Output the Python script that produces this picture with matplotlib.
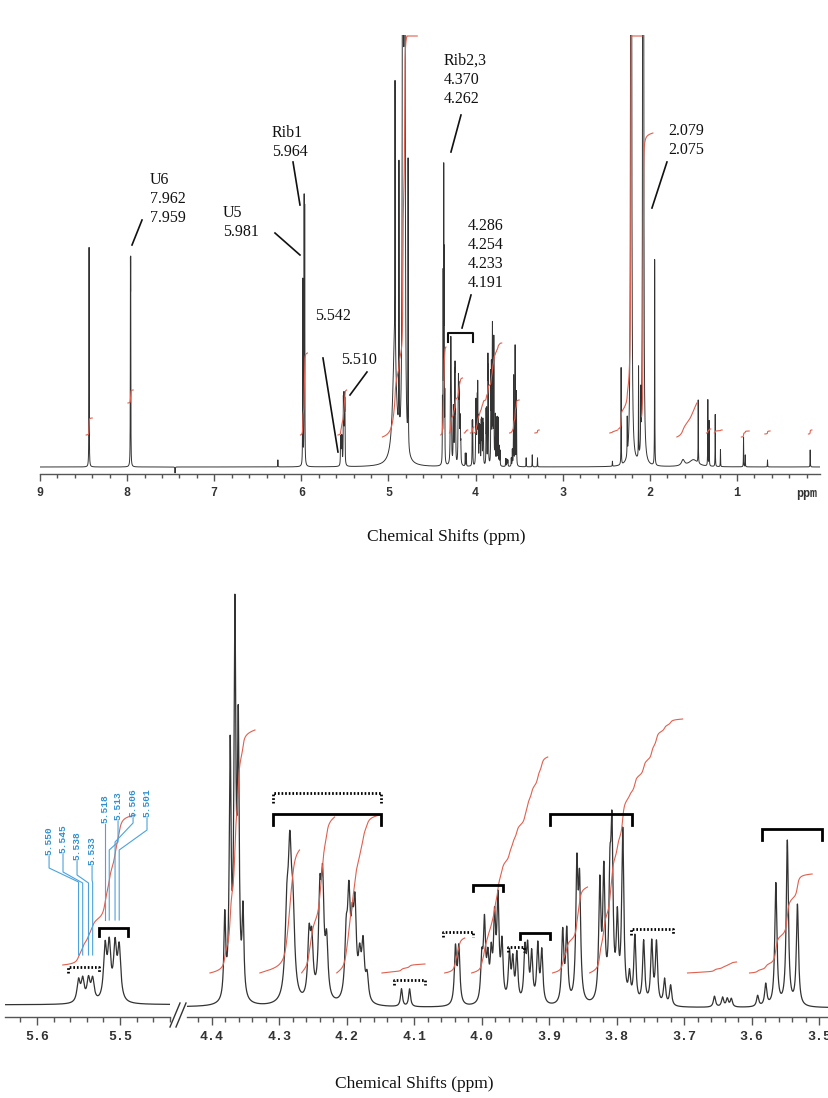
import numpy as np
import matplotlib.pyplot as plt
from matplotlib.lines import Line2D
import matplotlib.transforms as mtransforms
from matplotlib.ticker import FixedLocator, MultipleLocator

W, H = 829, 1098
SERIF = 'Liberation Serif'
MONO = 'Liberation Mono'
INK = '#333333'
RED = '#e0604f'
BLUE = '#2f8fd0'

# 1H peaks: shift (ppm), height (overview-panel units), half width (ppm)
PEAK_PPM = [
    8.437, 7.962, 7.959, 7.450, 6.270,
    5.984, 5.968, 5.962,
    5.550, 5.545, 5.538, 5.533, 5.518, 5.513, 5.506, 5.501,
    4.930, 4.925, 4.880, 4.835, 4.815, 4.775,
    4.381, 4.373, 4.366, 4.361, 4.354,
    4.289, 4.2845, 4.280,
    4.256, 4.252, 4.240, 4.236, 4.230,
    4.201, 4.197, 4.192, 4.188, 4.181, 4.176, 4.170,
    4.119, 4.107, 4.039, 4.034,
    4.000, 3.996, 3.991, 3.986, 3.981, 3.976, 3.970,
    3.959, 3.954, 3.948, 3.936, 3.932, 3.926, 3.917, 3.911,
    3.880, 3.874, 3.859, 3.855,
    3.825, 3.819, 3.810, 3.807, 3.799, 3.791,
    3.781, 3.773, 3.760, 3.748, 3.741, 3.729, 3.720,
    3.655, 3.643, 3.636, 3.630,
    3.591, 3.579, 3.564, 3.547, 3.532,
    3.420, 3.350, 3.290,
    2.430, 2.330, 2.260, 2.215, 2.130, 2.105, 2.079, 2.075, 1.945,
    1.620, 1.500, 1.445, 1.335, 1.320, 1.250, 1.190,
    0.925, 0.905, 0.650, 0.160,
]
PEAK_HEIGHT = [
    223, 175, 175, -6, 7,
    185, 255, 245,
    24, 24, 24, 24, 58, 58, 58, 57,
    120, 270, 266, 2500, 2500, 290,
    60, 180, 275, 190, 62,
    55, 95, 55,
    45, 40, 70, 78, 40,
    42, 68, 42, 62, 28, 40, 18,
    13, 13, 41, 41,
    30, 56, 28, 31, 57, 72, 41,
    35, 29, 35, 37, 37, 35, 42, 38,
    52, 52, 96, 82,
    85, 92, 76, 114, 57, 125,
    19, 49, 46, 45, 45, 19, 15,
    8, 7, 6, 6,
    8, 16, 90, 121, 74,
    9, 12, 9,
    5, 97, 37, 3000, 90, 54, 2500, 2500, 209,
    6, 7, 64, 67, 45, 52, 17,
    30, 12, 7, 17,
]
PEAK_HWHM = [
    0.0016, 0.0015, 0.0015, 0.002, 0.0016,
    0.0016, 0.0016, 0.0016,
    0.0022, 0.0022, 0.0022, 0.0022, 0.0022, 0.0022, 0.0022, 0.0022,
    0.025, 0.0016, 0.0016, 0.003, 0.003, 0.0016,
    0.0016, 0.0016, 0.0016, 0.0016, 0.0016,
    0.003, 0.003, 0.003,
    0.0024, 0.0024, 0.0024, 0.0024, 0.0024,
    0.0024, 0.0024, 0.0024, 0.0024, 0.0024, 0.0024, 0.0024,
    0.0017, 0.0017, 0.0019, 0.0019,
    0.0019, 0.0019, 0.0019, 0.0019, 0.0019, 0.0019, 0.0019,
    0.0019, 0.0019, 0.0019, 0.0019, 0.0019, 0.0019, 0.0019, 0.0019,
    0.0019, 0.0019, 0.0019, 0.0019,
    0.0019, 0.0019, 0.0019, 0.0019, 0.0019, 0.0019,
    0.0019, 0.0019, 0.0019, 0.0019, 0.0019, 0.0019, 0.0019,
    0.0019, 0.0019, 0.0019, 0.0019,
    0.0019, 0.0019, 0.0019, 0.0019, 0.0019,
    0.0016, 0.0016, 0.0016,
    0.0016, 0.0016, 0.0016, 0.003, 0.0016, 0.0016, 0.002, 0.002, 0.0016,
    0.02, 0.06, 0.0016, 0.0016, 0.0016, 0.0016, 0.0016,
    0.0016, 0.0016, 0.0016, 0.0016,
]

# gain of the expanded panels relative to the overview
GAIN_LEFT = 0.9
GAIN_RIGHT = 1.36

# integral traces: (start ppm, end ppm, start height, end height)
TOP_INTEGRALS = [
    (8.47, 8.40, 32, 49), (7.99, 7.93, 64, 77), (6.01, 5.93, 32, 114),
    (5.58, 5.48, 32, 77), (5.07, 4.67, 30, 450), (4.40, 4.34, 32, 120),
    (4.30, 4.15, 34, 89), (4.13, 4.09, 34, 37), (4.06, 4.02, 34, 40),
    (4.02, 3.70, 34, 124), (3.61, 3.50, 34, 67), (3.32, 3.27, 34, 37),
    (2.46, 2.37, 34, 37), (2.36, 2.09, 38, 1038), (2.095, 1.965, 50, 334),
    (1.69, 1.46, 30, 64), (1.35, 1.30, 34, 38), (1.26, 1.17, 34, 37),
    (0.95, 0.86, 30, 36), (0.68, 0.62, 33, 36), (0.18, 0.14, 33, 37),
]
LEFT_INTEGRALS = [(5.569, 5.481, 40, 190)]
RIGHT_INTEGRALS = [
    (4.403, 4.336, 35, 278), (4.329, 4.270, 35, 158), (4.267, 4.218, 35, 191),
    (4.215, 4.151, 35, 193), (4.148, 4.084, 35, 44), (4.055, 4.025, 35, 70),
    (4.015, 3.902, 35, 251), (3.895, 3.843, 35, 121), (3.840, 3.702, 35, 289),
    (3.695, 3.622, 35, 46), (3.603, 3.510, 35, 134),
]

# multiplet brackets: (left ppm, right ppm, height, leg, dotted)
LEFT_BRACKETS = [(5.563, 5.525, 38, 6, True), (5.525, 5.490, 77, 8, False)]
RIGHT_BRACKETS = [
    (4.310, 4.150, 215, 10, True), (4.310, 4.150, 194, 11, False),
    (4.013, 3.969, 123, 6, False), (4.058, 4.013, 76, 5, True),
    (4.130, 4.084, 28, 5, True), (3.961, 3.938, 61, 5, True),
    (3.944, 3.899, 75, 6, False), (3.899, 3.778, 194, 11, False),
    (3.779, 3.717, 79, 6, True), (3.584, 3.495, 179, 11, False),
]

# peak picking labels of the anomeric region
PICK_LABELS = [5.550, 5.545, 5.538, 5.533, 5.518, 5.513, 5.506, 5.501]
# label x, text bottom, knee heights, end height (layout)
PICK_LAYOUT = [
    (5.5855, 150, 137, 123, 50), (5.5687, 152, 133, 122, 50),
    (5.5518, 145, 130, 122, 50), (5.5337, 140, 125, 122, 50),
    (5.5180, 182, 170, 165, 85), (5.5024, 185, 163, 155, 85),
    (5.4843, 188, 182, 163, 85), (5.4675, 188, 175, 155, 85),
]

# overview annotations: (text, text ppm, text top height, line from, line to)
TOP_LABELS = [
    ('U6\n7.962\n7.959', 7.737, 295, (7.829, 247), (7.944, 222)),
    ('U5\n5.981', 6.900, 262, (6.303, 234), (6.016, 212)),
    ('Rib1\n5.964', 6.337, 342, (6.096, 305), (6.016, 262)),
    ('5.542', 5.844, 159, (5.752, 109), (5.580, 15)),
    ('5.510', 5.545, 115, (5.247, 95), (5.442, 72)),
    ('Rib2,3\n4.370\n4.262', 4.363, 414, (4.168, 352), (4.283, 315)),
    ('4.286\n4.254\n4.233\n4.191', 4.088, 249, (4.053, 172), (4.156, 139)),
    ('2.079\n2.075', 1.792, 344, (1.804, 305), (1.976, 259)),
]


def spectrum(x, gain=1.0):
    p = np.array(PEAK_PPM)
    a = np.array(PEAK_HEIGHT, dtype=float)
    g = np.array(PEAK_HWHM)
    d = x[:, None] - p[None, :]
    return gain * (a * g**2 / (d**2 + g**2)).sum(axis=1)


def px_axes(fig, x0, y0, x1, y1):
    return fig.add_axes([x0 / W, 1 - y1 / H, (x1 - x0) / W, (y1 - y0) / H])


def style_axis(ax, major, minor, fmt, size, major_len, minor_len):
    for side in ['left', 'right', 'top']:
        ax.spines[side].set_visible(False)
    ax.spines['bottom'].set_color('#555555')
    ax.spines['bottom'].set_linewidth(1.0)
    ax.set_yticks([])
    ax.xaxis.set_major_locator(FixedLocator(major))
    ax.xaxis.set_minor_locator(MultipleLocator(minor))
    ax.set_xticklabels([fmt.format(v) for v in major])
    ax.tick_params(axis='x', which='major', length=major_len, width=1,
                   color='#555555', pad=4, labelsize=size, labelcolor=INK)
    ax.tick_params(axis='x', which='minor', length=minor_len, width=1,
                   color='#555555')
    for lab in ax.get_xticklabels():
        lab.set_family(MONO)
        lab.set_weight('bold')
    ax.patch.set_alpha(0)


def draw_integrals(ax, x, y, regions, ytop):
    for a, b, h0, h1 in regions:
        m = (x <= a) & (x >= b)
        c = np.cumsum(np.clip(y[m], 0, None))
        c = c / c[-1]
        ax.plot(x[m], np.minimum(h0 + (h1 - h0) * c, ytop - 1),
                color=RED, lw=0.8)


def draw_brackets(ax, brackets):
    for a, b, h, leg, dotted in brackets:
        ls = (0, (0.6, 0.7)) if dotted else '-'
        ax.plot([a, a, b, b], [h - leg, h, h, h - leg], color='k', lw=2,
                ls=ls, solid_joinstyle='miter')


def main():
    fig = plt.figure(figsize=(W / 100, H / 100), dpi=100)
    fig.patch.set_facecolor('white')

    # overview spectrum
    ax = px_axes(fig, 40, 35, 820, 474)
    x = np.arange(9.0, 0.03, -0.0004)
    y = spectrum(x)
    ax.plot(x, y, color=INK, lw=0.7)
    ax.set_xlim(9.0, 9.0 - 780 / 87.125)
    ax.set_ylim(-7, 432)
    style_axis(ax, [9, 8, 7, 6, 5, 4, 3, 2, 1], 0.2, '{:d}', 8.5, 5, 3)
    draw_integrals(ax, x, y, TOP_INTEGRALS, 432)
    for text, tx, ty, p0, p1 in TOP_LABELS:
        ax.text(tx, ty, text, family=SERIF, fontsize=11.5, ha='left',
                va='top', linespacing=1.25, color='#111111')
        ax.plot([p0[0], p1[0]], [p0[1], p1[1]], color='#111111', lw=1.2)
    ax.plot([4.317, 4.317, 4.030, 4.030], [125, 134, 134, 125],
            color='#111111', lw=1.5)
    trans = mtransforms.blended_transform_factory(ax.transData, ax.transAxes)
    ax.text(0.2, -0.046, 'ppm', transform=trans, family=MONO, weight='bold',
            fontsize=8.5, ha='center', va='center', color=INK)
    fig.text(446 / W, 1 - 537 / H, 'Chemical Shifts (ppm)', family=SERIF,
             fontsize=12.5, ha='center', va='center', color='#111111')

    # expansion of the anomeric region
    axl = px_axes(fig, 5, 575, 170, 1017)
    xl = np.arange(5.6386, 5.4398, -0.0002)
    yl = spectrum(xl, GAIN_LEFT)
    axl.plot(xl, yl, color=INK, lw=0.9)
    axl.set_xlim(5.6386, 5.4398)
    axl.set_ylim(-12, 430)
    style_axis(axl, [5.6, 5.5], 0.02, '{:.1f}', 9.5, 6, 3.5)
    draw_integrals(axl, xl, yl, LEFT_INTEGRALS, 430)
    draw_brackets(axl, LEFT_BRACKETS)
    for val, (lx, tb, k1, k2, end) in zip(PICK_LABELS, PICK_LAYOUT):
        axl.text(lx, tb, '{:.3f}'.format(val), rotation=90, ha='center',
                 va='bottom', family=MONO, weight='bold', fontsize=6.8,
                 color=BLUE)
        axl.plot([lx, lx, val, val], [tb - 1, k1, k2, end], color='#4aa3df',
                 lw=0.8)

    # expansion of the ribose region
    axr = px_axes(fig, 187, 575, 829, 1017)
    xr = np.arange(4.437, 3.485, -0.0002)
    yr = spectrum(xr, GAIN_RIGHT)
    axr.plot(xr, yr, color=INK, lw=0.9)
    axr.set_xlim(4.437, 3.4852)
    axr.set_ylim(-9, 433)
    style_axis(axr, [4.4, 4.3, 4.2, 4.1, 4.0, 3.9, 3.8, 3.7, 3.6, 3.5],
               0.02, '{:.1f}', 9.5, 6, 3.5)
    draw_integrals(axr, xr, yr, RIGHT_INTEGRALS, 433)
    draw_brackets(axr, RIGHT_BRACKETS)

    # axis break marks
    for dx in [0, 6]:
        fig.add_artist(Line2D([(170 + dx) / W, (180 + dx) / W],
                              [1 - 1027 / H, 1 - 1003 / H],
                              transform=fig.transFigure, color=INK, lw=1))
    fig.text(414 / W, 1 - 1084 / H, 'Chemical Shifts (ppm)', family=SERIF,
             fontsize=12.5, ha='center', va='center', color='#111111')

    fig.savefig('out.png', dpi=100, facecolor='white')
    plt.close(fig)


if __name__ == '__main__':
    main()
